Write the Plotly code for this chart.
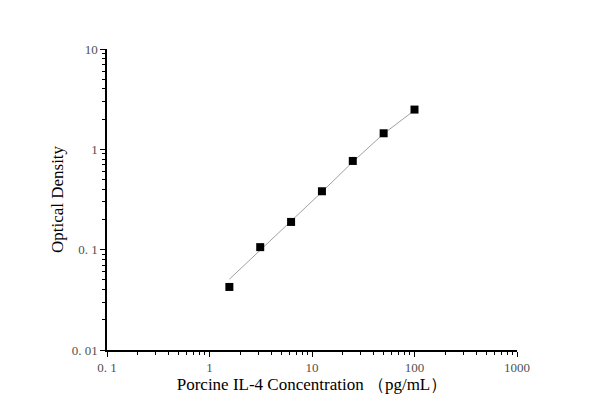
import plotly.graph_objects as go

# standards (pg/mL) and measured OD
conc = [1.5625, 3.125, 6.25, 12.5, 25, 50, 100]
od = [0.0425, 0.106, 0.189, 0.382, 0.766, 1.446, 2.49]
# fitted curve read at the standards
fit_od = [0.0507, 0.099, 0.189, 0.376, 0.75, 1.43, 2.45]

x_ticks = [0.1, 1, 10, 100, 1000]
x_labels = ["0. 1", "1", "10", "100", "1000"]
y_ticks = [0.01, 0.1, 1, 10]
y_labels = ["0. 01", "0. 1", "1", "10"]

fig = go.Figure()
fig.add_trace(go.Scatter(x=conc, y=fit_od, mode="lines",
                         line=dict(color="#a0a0a0", width=1), hoverinfo="skip"))
fig.add_trace(go.Scatter(x=conc, y=od, mode="markers",
                         marker=dict(symbol="square", size=8, color="black")))

axis_common = dict(
    type="log", showgrid=False, zeroline=False, showline=True,
    linecolor="black", linewidth=1.5, ticks="outside", ticklen=5,
    tickwidth=1, tickcolor="black",
    tickfont=dict(family="Liberation Serif", size=13, color="#505050"),
    minor=dict(ticks="outside", ticklen=3, tickcolor="black", dtick="D1"),
)

fig.update_xaxes(range=[-1, 3], tickvals=x_ticks, ticktext=x_labels,
                 title=dict(text="Porcine IL-4 Concentration （pg/mL）",
                            font=dict(family="Liberation Serif", size=17, color="black"),
                            standoff=4),
                 **axis_common)
fig.update_yaxes(range=[-2, 1], tickvals=y_ticks, ticktext=y_labels,
                 title=dict(text="Optical Density",
                            font=dict(family="Liberation Serif", size=17, color="black"),
                            standoff=4),
                 **axis_common)

fig.update_layout(
    width=600, height=419, showlegend=False,
    margin=dict(l=99, r=91, t=41, b=77),
    plot_bgcolor="white", paper_bgcolor="white",
)

fig.write_html("out.html")
